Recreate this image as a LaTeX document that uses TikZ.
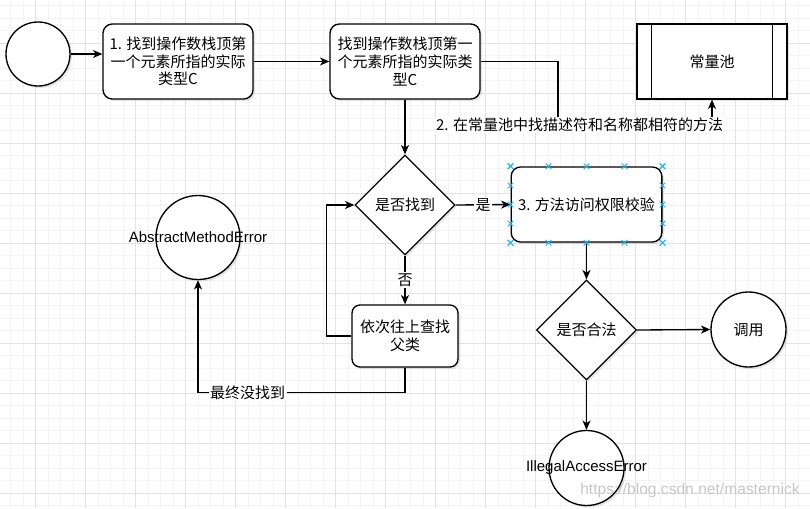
\documentclass[tikz,border=0pt]{standalone}
\usepackage{fontspec}
\setmainfont{Liberation Sans}
\newfontfamily\cjk{Noto Sans CJK SC}
\usetikzlibrary{arrows.meta,shapes.geometric,shapes.misc,shadows,calc}
\definecolor{gridmajor}{HTML}{E3E3E3}
\definecolor{gridminor}{HTML}{F4F4F4}
\definecolor{selblue}{HTML}{29B6F2}

\begin{document}
\begin{tikzpicture}[x=0.75pt,y=-0.75pt,line width=1pt,>={Stealth[length=7pt,width=6pt,inset=2pt]},
  castshadow/.style={drop shadow={opacity=0.2,shadow xshift=1.5pt,shadow yshift=-1.5pt}},
  zh/.style={font=\cjk\fontsize{11.25}{13.2}\selectfont},
  latin/.style={font=\fontsize{11.25}{13.5}\selectfont},
  proc/.style={draw,fill=white,rounded corners=7pt,align=center,inner sep=2pt,zh,castshadow},
  decide/.style={draw,fill=white,diamond,aspect=1,minimum size=75pt,inner sep=0pt,zh,castshadow},
  term/.style={draw,fill=white,circle,inner sep=0pt,castshadow},
  lbl/.style={fill=white,inner sep=1pt,zh},
  grip/.style={cross out,draw=selblue,line width=0.7pt,minimum size=3.5pt,inner sep=0pt}]
\useasboundingbox (0,0) rectangle (810,508);
% ---------- grid ----------
\fill[white] (0,0) rectangle (810,508);
\foreach \i in {0,...,63} \draw[gridminor,line width=0.75pt] (10.7+12.5*\i,0) -- (10.7+12.5*\i,508);
\foreach \i in {0,...,40} \draw[gridminor,line width=0.75pt] (0,5.8+12.5*\i) -- (810,5.8+12.5*\i);
\foreach \i in {0,...,15} \draw[gridmajor,line width=0.75pt] (35.7+50*\i,0) -- (35.7+50*\i,508);
\foreach \i in {0,...,9} \draw[gridmajor,line width=0.75pt] (0,43.3+50*\i) -- (810,43.3+50*\i);
% ---------- top row ----------
\node[term,minimum size=48pt] (start) at (38,54) {};
\node[proc,minimum width=112.5pt,minimum height=56.25pt] (find1) at (178,61.5) {1. 找到操作数栈顶第\\一个元素所指的实际\\类型C};
\node[proc,minimum width=112.5pt,minimum height=56.25pt] (find2) at (405,61.5) {找到操作数栈顶第一\\个元素所指的实际类\\型C};
\node[draw,fill=white,castshadow,minimum width=112.5pt,minimum height=56.25pt,zh] (pool) at (712,61.5) {常量池};
\draw ([xshift=11.25pt]pool.north west) -- ([xshift=11.25pt]pool.south west);
\draw ([xshift=-11.25pt]pool.north east) -- ([xshift=-11.25pt]pool.south east);
% ---------- search ----------
\node[decide] (found) at (405,205) {是否找到};
\node[proc,minimum width=113pt,minimum height=56.25pt] (access) at (586.5,204.5) {3. 方法访问权限校验};
\node[proc,minimum width=79.5pt,minimum height=46.5pt,rounded corners=6pt] (super) at (405,336) {依次往上查找\\父类};
\node[term,minimum size=63pt,label={[latin]center:AbstractMethodError}] (ame) at (198,237.5) {};
% ---------- check ----------
\node[decide] (legal) at (586.5,330) {是否合法};
\node[term,minimum size=56.25pt,zh] (call) at (748.5,329.5) {调用};
\node[term,minimum size=56.25pt,label={[latin]center:IllegalAccessError}] (iae) at (586.5,468) {};
% ---------- connectors ----------
\draw[->] (start.east) -- (start.east -| find1.west);
\draw[->] (find1.east) -- (find2.west);
\coordinate (turn) at (558,125);
\draw[->] (find2.east) -| (turn) -| (pool.south) node[lbl,pos=0.07] (ask) {2. 在常量池中找描述符和名称都相符的方法};
\draw[->] (find2.south) -- (found.north);
\draw[->] (found.east) -- (access.west) node[lbl,midway] (yes) {是};
\draw[->] (found.south) -- (super.north) node[lbl,midway] (no) {否};
\draw[->] (super.west) -- ++(-25,0) |- (found.west);
\draw[->] (super.south) -- ++(0,25) -| (ame.south) node[lbl,pos=0.38] (lost) {最终没找到};
\draw[->] (access.south) -- (legal.north);
\draw[->] (legal.east) -- (call.west);
\draw[->] (legal.south) -- (iae.north);
% selection handles
\foreach \t in {0,0.25,0.5,0.75,1}{
  \path ($(access.north west)!\t!(access.north east)$) node[grip] {}
        ($(access.south west)!\t!(access.south east)$) node[grip] {}
        ($(access.north west)!\t!(access.south west)$) node[grip] {}
        ($(access.north east)!\t!(access.south east)$) node[grip] {};
}
% watermark
\node[text=black!22,font=\fontsize{11.7}{14}\selectfont] (mark) at (690,490) {https://blog.csdn.net/masternick};
\end{tikzpicture}
\end{document}
